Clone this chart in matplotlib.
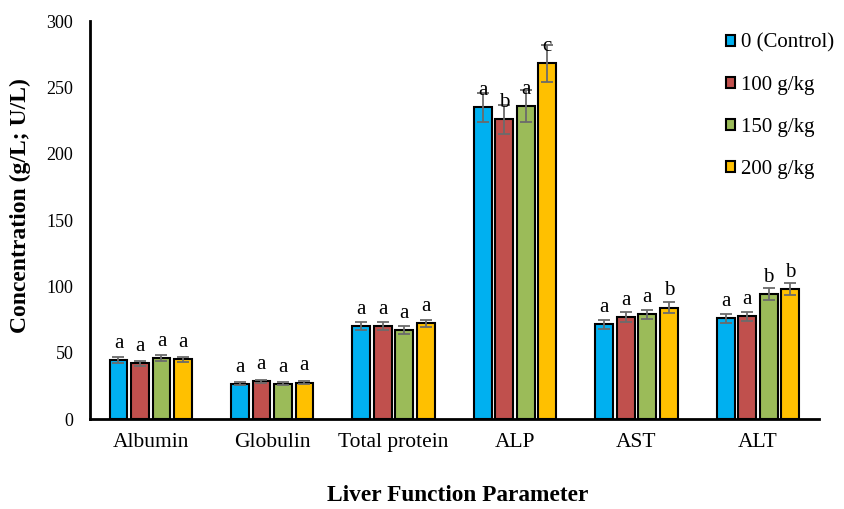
import numpy as np
import matplotlib
matplotlib.use('Agg')
import matplotlib.pyplot as plt

plt.rcParams['font.family'] = ['Liberation Serif', 'DejaVu Serif']

# data
params = ['Albumin', 'Globulin', 'Total protein', 'ALP', 'AST', 'ALT']
groups = ['0 (Control)', '100 g/kg', '150 g/kg', '200 g/kg']
control = [44.5, 26.5, 70, 235, 71.5, 76]
g100 = [42, 28.5, 70, 226, 77, 77.5]
g150 = [46, 26.5, 67, 236, 79, 94]
g200 = [45, 27.5, 72, 268, 84, 98]
err_control = [2, 1.2, 3, 11, 3.5, 3.5]
err_g100 = [2, 1.2, 3, 11, 3.5, 3.5]
err_g150 = [2, 1.2, 3, 12, 3.5, 4.5]
err_g200 = [2, 1.2, 3, 14, 4, 4.5]
let_control = ['a', 'a', 'a', 'a', 'a', 'a']
let_g100 = ['a', 'a', 'a', 'b', 'a', 'a']
let_g150 = ['a', 'a', 'a', 'a', 'a', 'b']
let_g200 = ['a', 'a', 'a', 'c', 'b', 'b']

colors = ['#00B0F0', '#C0504D', '#9BBB59', '#FFC000']
series = [control, g100, g150, g200]
errs = [err_control, err_g100, err_g150, err_g200]
lets = [let_control, let_g100, let_g150, let_g200]

fig = plt.figure(figsize=(8.44, 5.09), dpi=100)
ax = fig.add_axes([0.1066, 0.1768, 0.8634, 0.7819])

x = np.arange(len(params))
slot = 0.177
wid = 0.146
for k in range(4):
    xs = x + (k - 1.5) * slot
    ax.bar(xs, series[k], width=wid, color=colors[k], edgecolor='black',
           linewidth=1.5, label=groups[k], zorder=2)
    ax.errorbar(xs, series[k], yerr=errs[k], fmt='none', ecolor='#6b6b6b',
                elinewidth=1.3, capsize=4, capthick=1.3, zorder=3)
    for i in range(len(params)):
        ax.annotate(lets[k][i], (xs[i], series[k][i]), xytext=(0, 12),
                    textcoords='offset points', ha='center', va='center',
                    fontsize=15)

ax.set_xlim(-0.5, len(params) - 0.5)
ax.set_ylim(0, 300)
ax.set_yticks(np.arange(0, 301, 50))
ax.set_xticks(x)
ax.set_xticklabels(params, fontsize=15.5)
ax.tick_params(axis='y', labelsize=13, length=0, pad=12)
ax.tick_params(axis='x', length=0, pad=10)
for s in ['top', 'right']:
    ax.spines[s].set_visible(False)
for s in ['left', 'bottom']:
    ax.spines[s].set_linewidth(2)

fig.text(0.024, 0.597, 'Concentration (g/L; U/L)', fontsize=17, fontweight='bold',
         rotation=90, ha='center', va='center')
fig.text(0.542, 0.005, 'Liver Function Parameter', fontsize=16.8,
         fontweight='bold', ha='center', va='bottom')

ax.legend(loc='upper left', bbox_to_anchor=(0.855, 1.0), frameon=False,
          fontsize=15, handlelength=0.45, handleheight=0.45, handletextpad=0.3,
          labelspacing=1.1, borderaxespad=0.2)

plt.savefig('out.png', dpi=100)
